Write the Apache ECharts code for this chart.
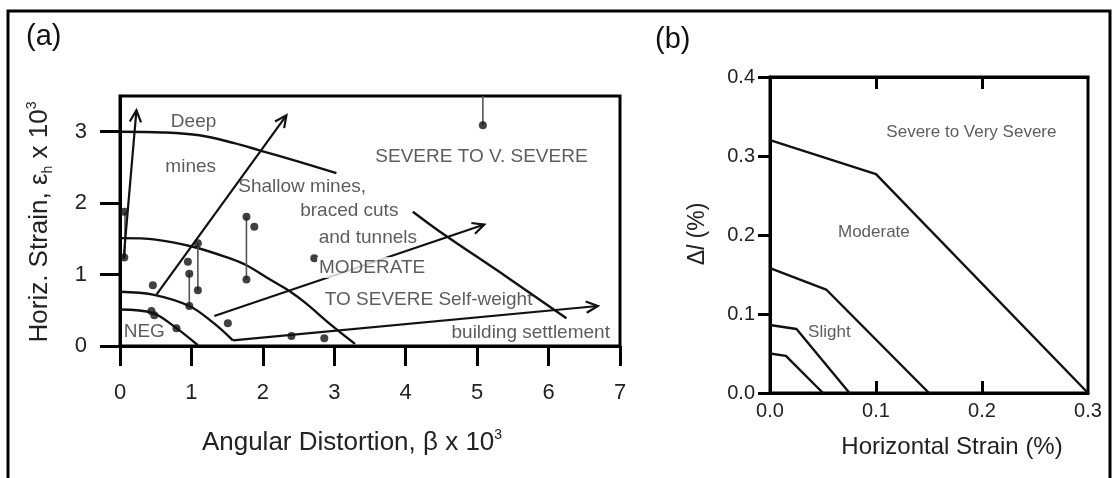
<!DOCTYPE html>
<html>
<head>
<meta charset="utf-8">
<script src="https://cdn.jsdelivr.net/npm/echarts@6/dist/echarts.min.js"></script>
<style>
html, body { margin: 0; padding: 0; background: #fff; }
#main { width: 1114px; height: 478px; }
</style>
</head>
<body>
<div id="main"></div>
<script>
// ---- panel (a): angular distortion vs horizontal strain ----
var deepCurveLeft = [[0, 3.0], [0.6, 2.99], [1.11, 2.95], [1.6, 2.84], [1.95, 2.74], [2.5, 2.58], [3.03, 2.42]];
var deepCurveRight = [[4.10, 1.88], [4.48, 1.60], [5.41, 0.97], [6.25, 0.39]];
var moderateCurve = [[0, 1.51], [0.5, 1.49], [1.02, 1.39], [1.5, 1.24], [1.77, 1.13], [2.1, 0.93], [2.37, 0.77], [2.6, 0.6], [2.95, 0.3], [3.29, 0.03]];
var slightCurve = [[0, 0.76], [0.46, 0.72], [0.97, 0.56], [1.3, 0.33], [1.58, 0.08]];
var negCurve = [[0, 0.51], [0.46, 0.46], [0.79, 0.25], [1.09, 0.01]];
// arrows: x1, y1, x2, y2
var arrowsA = [[0.05, 1.22, 0.23, 3.30], [0.51, 0.72, 2.33, 3.23], [1.32, 0.42, 5.10, 1.70], [1.58, 0.08, 6.69, 0.56]];
// range bars: x, low, high
var rangeBarsA = [[0.07, 1.24, 1.88], [0.97, 0.56, 1.01], [1.09, 0.78, 1.44], [1.77, 0.93, 1.81], [5.08, 3.09, 3.5]];
var casesA = [[0.06, 1.88], [0.06, 1.24], [0.46, 0.85], [0.44, 0.49], [0.48, 0.43], [0.79, 0.25], [0.95, 1.18],
  [0.97, 1.01], [0.97, 0.56], [1.09, 1.44], [1.09, 0.78], [1.51, 0.32], [1.77, 1.81], [1.88, 1.67], [1.77, 0.93],
  [2.40, 0.14], [2.72, 1.23], [2.86, 0.11], [5.08, 3.09]];
var xTicksA = [0, 1, 2, 3, 4, 5, 6, 7];
var yTicksA = [0, 1, 2, 3];
var notesA = ['Deep', 'mines', 'Shallow mines,', 'braced cuts', 'and tunnels', 'MODERATE', 'TO SEVERE Self-weight', 'SEVERE TO V. SEVERE', 'building settlement', 'NEG'];
var notesAX = [1.03, 0.99, 2.55, 3.21, 3.47, 3.53, 4.32, 5.06, 5.75, 0.34];
var notesAY = [3.14, 2.51, 2.23, 1.89, 1.52, 1.10, 0.65, 2.65, 0.19, 0.20];

// ---- panel (b): horizontal strain vs deflection ratio ----
var severeLimit = [[0, 0.32], [0.1, 0.277], [0.3, 0]];
var moderateLimit = [[0, 0.158], [0.053, 0.131], [0.15, 0]];
var slightLimit = [[0, 0.086], [0.025, 0.081], [0.075, 0]];
var negLimit = [[0, 0.05], [0.015, 0.047], [0.05, 0]];
var notesB = ['Severe to Very Severe', 'Moderate', 'Slight'];
var notesBX = [0.19, 0.098, 0.056];
var notesBY = [0.330, 0.204, 0.077];

var FONT = 'Liberation Sans, Arial, sans-serif';
var dom = document.getElementById('main');
var myChart = echarts.init(dom);

function arrowItem(params, api) {
    var a = api.coord([api.value(0), api.value(1)]);
    var b = api.coord([api.value(2), api.value(3)]);
    var ang = Math.atan2(b[1] - a[1], b[0] - a[0]);
    var len = 13, spread = 0.45;
    var h1 = [b[0] - len * Math.cos(ang - spread), b[1] - len * Math.sin(ang - spread)];
    var h2 = [b[0] - len * Math.cos(ang + spread), b[1] - len * Math.sin(ang + spread)];
    return {
        type: 'group',
        children: [
            { type: 'line', shape: { x1: a[0], y1: a[1], x2: b[0], y2: b[1] }, style: { stroke: '#111', lineWidth: 2.2 } },
            { type: 'polyline', shape: { points: [h1, b, h2] }, style: { stroke: '#111', lineWidth: 2.2, fill: null } }
        ]
    };
}

function rangeItem(params, api) {
    var lo = api.coord([api.value(0), api.value(1)]);
    var hi = api.coord([api.value(0), api.value(2)]);
    return { type: 'line', shape: { x1: lo[0], y1: lo[1], x2: hi[0], y2: hi[1] }, style: { stroke: '#555', lineWidth: 1.6 } };
}

function curve(data, xi, smooth) {
    return {
        type: 'line', xAxisIndex: xi, yAxisIndex: xi, data: data, smooth: smooth,
        showSymbol: false, symbol: 'none', z: 2,
        lineStyle: { color: '#111', width: 2.4 }
    };
}

function notes(names, xs, ys, xi, size, boxed) {
    var d = [];
    for (var i = 0; i < names.length; i++) {
        var item = { name: names[i], value: [xs[i], ys[i]] };
        if (boxed && boxed.indexOf(names[i]) >= 0) {
            item.label = { backgroundColor: '#fff', padding: [1, 2] };
        }
        d.push(item);
    }
    return {
        type: 'scatter', xAxisIndex: xi, yAxisIndex: xi, symbolSize: 0, z: 10, silent: true,
        data: d,
        label: { show: true, position: 'inside', formatter: '{b}', color: '#333', fontSize: size, fontFamily: FONT }
    };
}

var option = {
    animation: false,
    backgroundColor: '#fff',
    grid: [
        { left: 120, top: 96, width: 500, height: 250, show: true, borderColor: '#000', borderWidth: 3 },
        { left: 770, top: 77, width: 318, height: 316, show: true, borderColor: '#000', borderWidth: 3 }
    ],
    xAxis: [
        {
            gridIndex: 0, type: 'value', min: 0, max: 7, interval: 1,
            axisLine: { lineStyle: { color: '#000', width: 3 } },
            axisTick: { length: 20, lineStyle: { color: '#000', width: 3 }, customValues: xTicksA },
            axisLabel: { margin: 36, fontSize: 22, color: '#222', fontFamily: FONT, customValues: xTicksA },
            splitLine: { show: false }
        },
        {
            gridIndex: 1, type: 'value', min: 0, max: 0.3, interval: 0.1,
            axisLine: { lineStyle: { color: '#000', width: 3 } },
            axisTick: { inside: true, length: 12, lineStyle: { color: '#000', width: 3 }, customValues: [0.1, 0.2] },
            axisLabel: { margin: 8, fontSize: 20, color: '#222', fontFamily: FONT, formatter: function (v) { return v.toFixed(1); } },
            splitLine: { show: false }
        },
        {
            gridIndex: 1, type: 'value', position: 'top', min: 0, max: 0.3, interval: 0.1,
            axisLine: { lineStyle: { color: '#000', width: 3 } },
            axisTick: { inside: true, length: 12, lineStyle: { color: '#000', width: 3 }, customValues: [0.1, 0.2] },
            axisLabel: { show: false },
            splitLine: { show: false }
        }
    ],
    yAxis: [
        {
            gridIndex: 0, type: 'value', min: 0, max: 3.5, interval: 1,
            axisLine: { lineStyle: { color: '#000', width: 3 } },
            axisTick: { length: 20, lineStyle: { color: '#000', width: 3 }, customValues: yTicksA },
            axisLabel: { margin: 33, fontSize: 22, color: '#222', fontFamily: FONT, customValues: yTicksA },
            splitLine: { show: false }
        },
        {
            gridIndex: 1, type: 'value', min: 0, max: 0.4, interval: 0.1,
            axisLine: { lineStyle: { color: '#000', width: 3 } },
            axisTick: { length: 12, lineStyle: { color: '#000', width: 3 } },
            axisLabel: { margin: 15, fontSize: 20, color: '#222', fontFamily: FONT, formatter: function (v) { return v.toFixed(1); } },
            splitLine: { show: false }
        }
    ],
    graphic: [
        { type: 'polyline', shape: { points: [[8, 478], [8, 11], [1110, 11], [1110, 478]] }, style: { stroke: '#000', lineWidth: 3, fill: null } },
        { type: 'text', x: 26, y: 22, style: { text: '(a)', fontSize: 29, fontFamily: FONT, fill: '#111' } },
        { type: 'text', x: 655, y: 25, style: { text: '(b)', fontSize: 29, fontFamily: FONT, fill: '#111' } },
        {
            type: 'text', x: 352, y: 443,
            style: {
                text: 'Angular Distortion, \u03b2 x 10{sup|3}', align: 'center', verticalAlign: 'middle',
                fontSize: 26, fontFamily: FONT, fill: '#222', lineHeight: 30,
                rich: { sup: { fontSize: 14, lineHeight: 14, verticalAlign: 'top', fontFamily: FONT, fill: '#222' } }
            }
        },
        {
            type: 'text', x: 40, y: 222, rotation: Math.PI / 2,
            style: {
                text: 'Horiz. Strain, \u03b5{sub|h} x 10{sup|3}', align: 'center', verticalAlign: 'middle',
                fontSize: 26, fontFamily: FONT, fill: '#222', lineHeight: 30,
                rich: {
                    sup: { fontSize: 14, lineHeight: 14, verticalAlign: 'top', fontFamily: FONT, fill: '#222' },
                    sub: { fontSize: 14, lineHeight: 14, verticalAlign: 'bottom', fontFamily: FONT, fill: '#222' }
                }
            }
        },
        {
            type: 'text', x: 952, y: 447,
            style: { text: 'Horizontal Strain (%)', align: 'center', verticalAlign: 'middle', fontSize: 24, fontFamily: FONT, fill: '#222' }
        },
        {
            type: 'text', x: 698, y: 234, rotation: Math.PI / 2,
            style: {
                text: '\u0394{it|l} (%)', align: 'center', verticalAlign: 'middle', fontSize: 23, fontFamily: FONT, fill: '#222',
                rich: { it: { fontStyle: 'italic', fontSize: 23, fontFamily: FONT, fill: '#222' } }
            }
        }
    ],
    series: [
        curve(deepCurveLeft, 0, 0.35),
        curve(deepCurveRight, 0, 0.35),
        curve(moderateCurve, 0, 0.35),
        curve(slightCurve, 0, 0.35),
        curve(negCurve, 0, 0.35),
        { type: 'custom', xAxisIndex: 0, yAxisIndex: 0, renderItem: rangeItem, data: rangeBarsA, z: 3, silent: true },
        { type: 'custom', xAxisIndex: 0, yAxisIndex: 0, renderItem: arrowItem, data: arrowsA, z: 3, silent: true },
        {
            type: 'scatter', xAxisIndex: 0, yAxisIndex: 0, data: casesA, symbolSize: 8, z: 4,
            itemStyle: { color: '#111' }
        },
        notes(notesA, notesAX, notesAY, 0, 19, ['MODERATE']),
        curve(severeLimit, 1, false),
        curve(moderateLimit, 1, false),
        curve(slightLimit, 1, false),
        curve(negLimit, 1, false),
        notes(notesB, notesBX, notesBY, 1, 17, null)
    ]
};

if (option && typeof option === 'object') {
    myChart.setOption(option, true);
}
</script>
</body>
</html>
